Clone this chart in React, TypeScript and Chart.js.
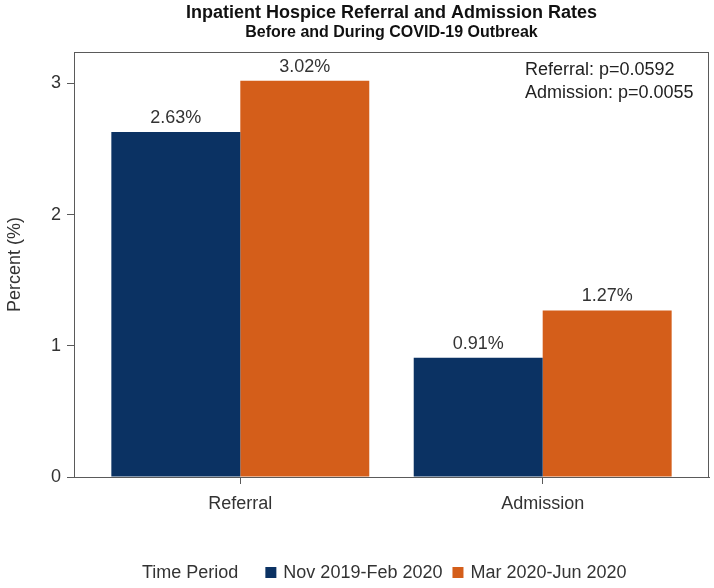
import React, { useEffect, useRef } from "react";
import { Chart, registerables } from "chart.js";

Chart.register(...registerables);

const categories = ["Referral", "Admission"];
const seriesLabels = ["Nov 2019-Feb 2020", "Mar 2020-Jun 2020"];
const beforeValues = [2.63, 0.91];
const duringValues = [3.02, 1.27];
const yTickValues = [0, 1, 2, 3];
const pValueNotes = ["Referral: p=0.0592", "Admission: p=0.0055"];
const titleText = "Inpatient Hospice Referral and Admission Rates";
const subtitleText = "Before and During COVID-19 Outbreak";
const legendTitle = "Time Period";
const yAxisTitle = "Percent (%)";

const NAVY = "#0b3263";
const ORANGE = "#d45e1a";
const FONT = "'Liberation Sans', Arial, Helvetica, sans-serif";
const TEXT = "#333333";
const AXIS = "#5a5a5a";

const decorPlugin = {
  id: "decor",
  afterDatasetsDraw(chart: any) {
    const ctx = chart.ctx;
    const area = chart.chartArea;
    ctx.save();
    // frame
    ctx.strokeStyle = AXIS;
    ctx.lineWidth = 1;
    ctx.strokeRect(area.left + 0.5, area.top + 0.5, area.right - area.left - 1, area.bottom - area.top);

    // value labels
    ctx.fillStyle = TEXT;
    ctx.font = `18px ${FONT}`;
    ctx.textAlign = "center";
    ctx.textBaseline = "middle";
    chart.data.datasets.forEach((ds: any, di: number) => {
      const meta = chart.getDatasetMeta(di);
      meta.data.forEach((el: any, i: number) => {
        const v = ds.data[i].y;
        ctx.fillText(v.toFixed(2) + "%", el.x, el.y - 14);
      });
    });

    // titles
    const cx = (area.left + area.right) / 2;
    ctx.fillStyle = "#111";
    ctx.font = `bold 18px ${FONT}`;
    ctx.fillText(titleText, cx, 13);
    ctx.font = `bold 16px ${FONT}`;
    ctx.fillText(subtitleText, cx, 33);

    // p-value notes
    ctx.fillStyle = "#222";
    ctx.font = `18px ${FONT}`;
    ctx.textAlign = "left";
    pValueNotes.forEach((t, i) => ctx.fillText(t, 525, 70 + i * 23));

    // legend
    const ly = 573;
    let x = 142;
    ctx.fillStyle = TEXT;
    ctx.fillText(legendTitle, x, ly);
    x += ctx.measureText(legendTitle).width + 27;
    chart.data.datasets.forEach((ds: any) => {
      ctx.fillStyle = ds.backgroundColor;
      ctx.fillRect(x, ly - 6, 11, 11);
      x += 11 + 7;
      ctx.fillStyle = TEXT;
      ctx.fillText(ds.label, x, ly);
      x += ctx.measureText(ds.label).width + 10;
    });
    ctx.restore();
  },
};

export default function App() {
  const ref = useRef<HTMLCanvasElement | null>(null);
  useEffect(() => {
    if (!ref.current) return;
    Chart.defaults.font.family = FONT;
    const mk = (vals: number[]) => vals.map((v, i) => ({ x: i, y: v }));
    const chart = new Chart(ref.current, {
      type: "bar",
      data: {
        datasets: [
          { label: seriesLabels[0], data: mk(beforeValues), backgroundColor: NAVY, borderWidth: 0 },
          { label: seriesLabels[1], data: mk(duringValues), backgroundColor: ORANGE, borderWidth: 0 },
        ],
      },
      options: {
        responsive: false,
        animation: false,
        devicePixelRatio: 1,
        layout: { padding: { left: 0, right: 5, top: 52, bottom: 0 } },
        datasets: { bar: { categoryPercentage: 0.853, barPercentage: 1 } },
        plugins: { legend: { display: false }, title: { display: false }, tooltip: { enabled: false } },
        scales: {
          x: {
            type: "linear",
            offset: false,
            min: -0.55,
            max: 1.55,
            afterBuildTicks: (scale: any) => {
              scale.ticks = categories.map((_, i) => ({ value: i }));
            },
            afterFit: (scale: any) => {
              scale.height = 111;
            },
            ticks: {
              callback: (v: any) => categories[v as number] ?? "",
              font: { size: 18 },
              color: TEXT,
              padding: 9,
              maxRotation: 0,
            },
            grid: { offset: false, drawOnChartArea: false, drawTicks: true, tickLength: 7, color: AXIS },
            border: { display: true, color: AXIS },
          },
          y: {
            min: 0,
            max: 3.24,
            afterBuildTicks: (scale: any) => {
              scale.ticks = yTickValues.map((v) => ({ value: v }));
            },
            afterFit: (scale: any) => {
              scale.width = 74;
            },
            ticks: { font: { size: 18 }, color: TEXT, padding: 6, includeBounds: false },
            grid: { drawOnChartArea: false, drawTicks: true, tickLength: 7, color: AXIS },
            border: { display: true, color: AXIS },
            title: { display: true, text: yAxisTitle, font: { size: 18 }, color: TEXT, padding: { top: 4, bottom: 0 } },
          },
        },
      },
      plugins: [decorPlugin],
    } as any);
    return () => chart.destroy();
  }, []);
  return (
    <div style={{ position: "absolute", left: 0, top: 0, width: 714, height: 588, background: "#fff" }}>
      <canvas ref={ref} width={714} height={588} />
    </div>
  );
}
